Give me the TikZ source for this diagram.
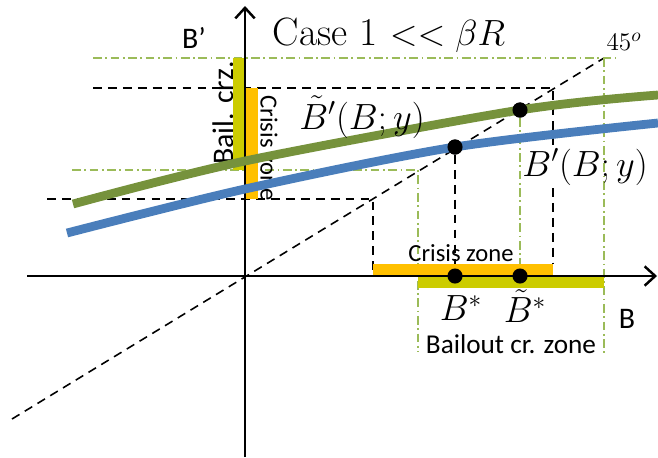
\documentclass[tikz,border=0pt]{standalone}
\usepackage{amsmath}
\usepackage{amssymb}
\usepackage{fontspec}
\newfontfamily\zonefont{Carlito}
\usetikzlibrary{arrows.meta}

\definecolor{curvegreen}{RGB}{118,146,60}
\definecolor{curveblue}{RGB}{74,126,187}
\definecolor{crisisorange}{RGB}{255,192,0}
\definecolor{bailyellow}{RGB}{204,204,0}
\definecolor{guidegreen}{RGB}{155,187,89}

\begin{document}
\begin{tikzpicture}[
  x=0.02cm, y=-0.02cm,
  axis/.style={line width=1.4pt, -{Straight Barb[length=6pt, width=11pt]}},
  guide/.style={line width=0.9pt, dash pattern=on 5pt off 3.5pt},
  bailguide/.style={guidegreen, line width=0.8pt, dash pattern=on 5pt off 2pt on 1pt off 2pt},
  curve/.style={line width=5pt},
  dot/.style={circle, fill=black, inner sep=0pt, minimum size=8.6pt},
  zone/.style={font=\zonefont\fontsize{14}{14}\selectfont, inner sep=1pt},
  axlabel/.style={font=\zonefont\fontsize{17}{17}\selectfont, inner sep=1pt},
  mathlabel/.style={font=\fontsize{20}{20}\selectfont, inner sep=1pt},
]
\useasboundingbox (0,0) rectangle (658,457);

\coordinate (O) at (245,276);
\coordinate (diagS) at (12,419);
\coordinate (diagE) at (604,58);

\node[dot] (dotB) at (455,147) {};
\node[dot] (dotBt) at (520,110) {};
\node[dot] (bstar) at (455,276) {};
\node[dot] (bstart) at (520,276) {};

\draw[guide] (diagS) -- (diagE);
\draw[guide] (93,88) -- (553,88) -- (553,148);
\draw[guide] (553,188) -- (553,264);
\draw[guide] (47,199) -- (373,199) -- (373,276);
\draw[guide] (dotB) -- (bstar);

\draw[bailguide] (93,58) -- (615,58);
\draw[bailguide] (604,58) -- (604,355);
\draw[bailguide] (72,170) -- (418,170) -- (418,352);
\draw[bailguide] (dotBt) -- (bstart);

\node[axlabel, rotate=90] (lblBail) at (223,113) {Bail. crz.};
\node[zone, rotate=-90] (lblCrisisV) at (269,148) {Crisis zone};
\node[mathlabel] (lblBs) at (461,308) {$B^*$};
\node[mathlabel] (lblBts) at (525,306) {$\tilde{B}^*$};

\fill[bailyellow] (233,58) rectangle (245,170);
\fill[crisisorange] (246,88) rectangle (258,199);
\fill[crisisorange] (373,264) rectangle (553,275);
\fill[bailyellow] (418,276) rectangle (604,288);

\draw[axis] (27,276) -- (657,276);
\draw[axis] (245,457) -- (245,6);

\draw[curve, curvegreen] plot[smooth] coordinates {(73,204) (245,161) (520,110) (658,95)};
\draw[curve, curveblue] plot[smooth] coordinates {(67,233) (245,189) (455,147) (658,123)};

\node[dot] at (dotB) {};
\node[dot] at (dotBt) {};
\node[dot] at (bstar) {};
\node[dot] at (bstart) {};

\node[font=\fontsize{22.5}{22.5}\selectfont] (title) at (389,35) {Case 1 $<< \beta R$};
\node[font=\fontsize{15}{15}\selectfont] (lbl45) at (624,42) {$45^o$};
\node[axlabel] (lblBp) at (194,38) {B’};
\node[axlabel] (lblB) at (627,319) {B};
\node[mathlabel] (lblBtp) at (362,117) {$\tilde{B}'(B;y)$};
\node[mathlabel] (lblBp2) at (585,167) {$B'(B;y)$};
\node[zone] (lblCrisisH) at (461,253) {Crisis zone};
\node[zone, font=\zonefont\fontsize{15.5}{15.5}\selectfont] (lblBailout) at (511,344) {Bailout cr. zone};
\end{tikzpicture}
\end{document}
